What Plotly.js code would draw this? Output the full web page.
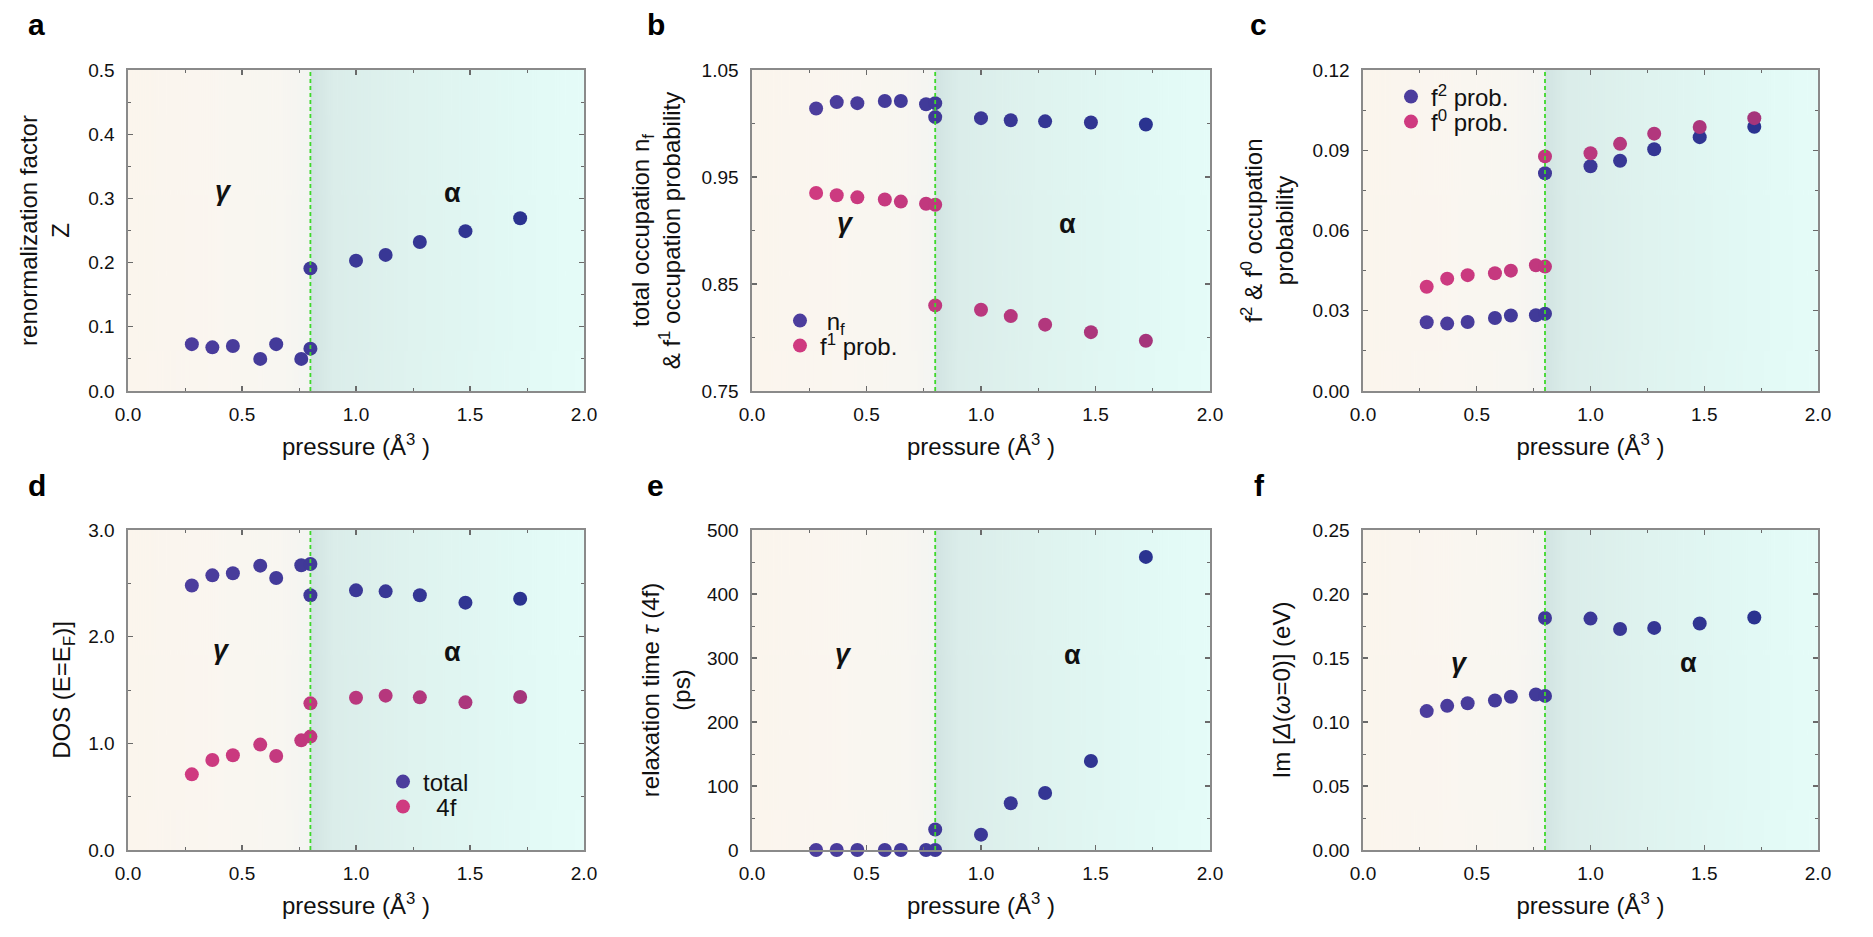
<!DOCTYPE html>
<html>
<head>
<meta charset="utf-8">
<script src="https://cdn.plot.ly/plotly-3.0.1.min.js"></script>
<style>
  html, body { margin: 0; padding: 0; background: #ffffff; }
  #chart { width: 1873px; height: 937px; }
</style>
</head>
<body>
<div id="chart"></div>
<script>
// Pressure grid: the gamma branch ends at the transition, the alpha branch starts there
const pressureGamma = [0.28, 0.37, 0.46, 0.58, 0.65, 0.76, 0.80];
const pressureAlpha = [0.80, 1.00, 1.13, 1.28, 1.48, 1.72];
const transitionPressure = 0.80;

// (a) renormalization factor Z
const zGamma = [0.073, 0.068, 0.070, 0.050, 0.073, 0.050, 0.066];
const zAlpha = [0.191, 0.203, 0.212, 0.232, 0.249, 0.269];

// (b) total 4f occupation n_f and f1 occupation probability
const nfGamma = [1.014, 1.020, 1.019, 1.021, 1.021, 1.018, 1.019];
const nfAlpha = [1.006, 1.005, 1.003, 1.002, 1.001, 0.999];
const f1Gamma = [0.935, 0.933, 0.931, 0.929, 0.927, 0.925, 0.924];
const f1Alpha = [0.830, 0.826, 0.820, 0.812, 0.805, 0.797];

// (c) f2 and f0 occupation probabilities
const f2Gamma = [0.0257, 0.0252, 0.0258, 0.0273, 0.0282, 0.0283, 0.0289];
const f2Alpha = [0.0814, 0.0840, 0.0861, 0.0904, 0.0949, 0.0988];
const f0Gamma = [0.0390, 0.0420, 0.0433, 0.0440, 0.0450, 0.0470, 0.0465];
const f0Alpha = [0.0877, 0.0889, 0.0924, 0.0962, 0.0987, 0.1020];

// (d) density of states at the Fermi level
const dosTotalGamma = [2.480, 2.575, 2.594, 2.666, 2.550, 2.669, 2.681];
const dosTotalAlpha = [2.388, 2.434, 2.425, 2.388, 2.319, 2.356];
const dos4fGamma = [0.709, 0.844, 0.888, 0.988, 0.881, 1.028, 1.063];
const dos4fAlpha = [1.375, 1.428, 1.447, 1.431, 1.384, 1.434];

// (e) 4f relaxation time (ps)
const tauGamma = [0, 0, 0, 0, 0, 0, 0];
const tauAlpha = [32, 24, 73, 89, 139, 458];

// (f) Im Delta(omega = 0) (eV)
const hybGamma = [0.1085, 0.1126, 0.1147, 0.1168, 0.1197, 0.1215, 0.1204];
const hybAlpha = [0.1813, 0.1808, 0.1727, 0.1735, 0.1769, 0.1816];

// Tick values
const pressureTicks = [0, 0.5, 1.0, 1.5, 2.0];
const zTicks = [0, 0.1, 0.2, 0.3, 0.4, 0.5];
const occTicks = [0.75, 0.85, 0.95, 1.05];
const probTicks = [0, 0.03, 0.06, 0.09, 0.12];
const dosTicks = [0, 1, 2, 3];
const tauTicks = [0, 100, 200, 300, 400, 500];
const hybTicks = [0, 0.05, 0.10, 0.15, 0.20, 0.25];

// ---------------------------------------------------------------------------
const W = 1873, H = 937;
const FONT = '"Liberation Sans", Arial, Helvetica, sans-serif';
const cols = [[128, 584], [752, 1210], [1363, 1818]];
const rows = [[70, 391], [530, 850]];
const px2x = p => p / W;
const px2y = p => 1 - p / H;

// phase-dependent background: warm gamma side, teal alpha side
function gradientImage() {
  const c = document.createElement('canvas');
  c.width = 800; c.height = 4;
  const g = c.getContext('2d');
  const lg = g.createLinearGradient(0, 0, c.width, 0);
  const split = transitionPressure / 2;
  lg.addColorStop(0.00, 'rgb(251,245,237)');
  lg.addColorStop(0.20, 'rgb(250,246,240)');
  lg.addColorStop(split - 0.06, 'rgb(248,246,241)');
  lg.addColorStop(split - 0.001, 'rgb(244,245,242)');
  lg.addColorStop(split + 0.001, 'rgb(210,228,226)');
  lg.addColorStop(split + 0.05, 'rgb(219,237,234)');
  lg.addColorStop(0.62, 'rgb(223,243,239)');
  lg.addColorStop(0.85, 'rgb(226,249,245)');
  lg.addColorStop(1.00, 'rgb(229,252,248)');
  g.fillStyle = lg;
  g.fillRect(0, 0, c.width, c.height);
  return c.toDataURL('image/png');
}
const bgSrc = gradientImage();

function hexToRgb(h) { return [1, 3, 5].map(i => parseInt(h.slice(i, i + 2), 16)); }
function mix(c0, c1, t) {
  const a = hexToRgb(c0), b = hexToRgb(c1);
  return 'rgb(' + a.map((v, i) => Math.round(v + (b[i] - v) * t)).join(',') + ')';
}
const allP = pressureGamma.concat(pressureAlpha);
const pMin = Math.min(...allP), pMax = Math.max(...allP);
const BLUE = ['#4c3d9d', '#2a3390'];
const PINK = ['#cf3a80', '#a5357b'];

function series(yGamma, yAlpha, name, palette, axIdx, legendId) {
  const x = pressureGamma.concat(pressureAlpha);
  const y = yGamma.concat(yAlpha);
  const suffix = axIdx === 1 ? '' : String(axIdx);
  return {
    type: 'scatter', mode: 'markers', x: x, y: y, name: name,
    xaxis: 'x' + suffix, yaxis: 'y' + suffix,
    showlegend: !!legendId, legend: legendId || 'legend',
    cliponaxis: false,
    marker: {
      size: 14,
      color: x.map(v => mix(palette[0], palette[1], (v - pMin) / (pMax - pMin))),
      line: { width: 0 }
    },
    hoverinfo: 'x+y'
  };
}

const traces = [
  series(zGamma, zAlpha, 'Z', BLUE, 1),
  series(nfGamma, nfAlpha, '\u00a0n<sub>f</sub>', BLUE, 2, 'legend'),
  series(f1Gamma, f1Alpha, 'f<sup>1</sup> prob.', PINK, 2, 'legend2'),
  series(f2Gamma, f2Alpha, 'f<sup>2</sup> prob.', BLUE, 3, 'legend3'),
  series(f0Gamma, f0Alpha, 'f<sup>0</sup> prob.', PINK, 3, 'legend4'),
  series(dosTotalGamma, dosTotalAlpha, 'total', BLUE, 4, 'legend5'),
  series(dos4fGamma, dos4fAlpha, '\u00a0\u00a04f', PINK, 4, 'legend6'),
  series(tauGamma, tauAlpha, 'tau', BLUE, 5),
  series(hybGamma, hybAlpha, 'Im Delta', BLUE, 6)
];

const tickStyle = {
  showline: true, linecolor: '#8a8a8a', linewidth: 1.6, mirror: 'ticks',
  ticks: 'inside', ticklen: 5, tickwidth: 1.2, tickcolor: '#6a6a6a',
  showgrid: false, zeroline: false, fixedrange: true,
  tickfont: { family: FONT, size: 19, color: '#111' }
};

function xAxis(col, row, anchor) {
  return Object.assign({}, tickStyle, {
    domain: [px2x(cols[col][0]), px2x(cols[col][1])],
    anchor: anchor, range: [0, 2],
    tickmode: 'array', tickvals: pressureTicks, tickformat: '.1f',
    ticklabelstandoff: 6,
    minor: { tickmode: 'linear', tick0: 0, dtick: 0.25, ticks: 'inside', ticklen: 3, tickwidth: 1, tickcolor: '#6a6a6a', showgrid: false },
    title: { text: 'pressure (Å<sup>3</sup> )', font: { family: FONT, size: 24, color: '#111' }, standoff: 14 }
  });
}
function yAxis(col, row, anchor, range, ticks, fmt, minorStep, title, standoff) {
  return Object.assign({}, tickStyle, {
    domain: [px2y(rows[row][1]), px2y(rows[row][0])],
    anchor: anchor, range: range,
    tickmode: 'array', tickvals: ticks, tickformat: fmt,
    ticklabelstandoff: 8,
    minor: { tickmode: 'linear', tick0: range[0], dtick: minorStep, ticks: 'inside', ticklen: 3, tickwidth: 1, tickcolor: '#6a6a6a', showgrid: false },
    title: { text: title, font: { family: FONT, size: 24, color: '#111' }, standoff: standoff }
  });
}

const layout = {
  width: W, height: H,
  margin: { l: 0, r: 0, t: 0, b: 0 },
  paper_bgcolor: '#ffffff', plot_bgcolor: '#ffffff',
  font: { family: FONT, color: '#111' },
  xaxis: xAxis(0, 0, 'y'),
  xaxis2: xAxis(1, 0, 'y2'),
  xaxis3: xAxis(2, 0, 'y3'),
  xaxis4: xAxis(0, 1, 'y4'),
  xaxis5: xAxis(1, 1, 'y5'),
  xaxis6: xAxis(2, 1, 'y6'),
  yaxis: yAxis(0, 0, 'x', [0, 0.5], zTicks, '.1f', 0.05, 'renormalization factor<br>Z', 12),
  yaxis2: yAxis(1, 0, 'x2', [0.75, 1.05], occTicks, '.2f', 0.05, 'total occupation n<sub>f</sub><br>&amp; f<sup>1</sup> occupation probability', 14),
  yaxis3: yAxis(2, 0, 'x3', [0, 0.12], probTicks, '.2f', 0.015, 'f<sup>2</sup> &amp; f<sup>0</sup> occupation<br>probability', 12),
  yaxis4: yAxis(0, 1, 'x4', [0, 3], dosTicks, '.1f', 0.5, 'DOS (E=E<sub>F</sub>)]', 11),
  yaxis5: yAxis(1, 1, 'x5', [0, 500], tauTicks, 'd', 50, 'relaxation time <i>τ</i> (4f)<br>(ps)', 9),
  yaxis6: yAxis(2, 1, 'x6', [0, 0.25], hybTicks, '.2f', 0.025, 'Im [<i>Δ</i>(<i>ω</i>=0)] (eV)', 15),
  images: [],
  shapes: [],
  annotations: []
};

// one-item legends placed inside panels b, c and d
function legendBox(cx, cy) {
  return {
    x: px2x(cx - 20), y: px2y(cy), xanchor: 'left', yanchor: 'middle',
    xref: 'paper', yref: 'paper',
    bgcolor: 'rgba(0,0,0,0)', borderwidth: 0,
    font: { family: FONT, size: 24, color: '#111' },
    itemclick: false, itemdoubleclick: false
  };
}
layout.legend = legendBox(800, 321);
layout.legend2 = legendBox(800, 346);
layout.legend3 = legendBox(1411, 97);
layout.legend4 = legendBox(1411, 122);
layout.legend5 = legendBox(403, 782);
layout.legend6 = legendBox(403, 807);

const axisIds = ['', '2', '3', '4', '5', '6'];
axisIds.forEach(s => {
  layout.images.push({
    source: bgSrc, xref: 'x' + s + ' domain', yref: 'y' + s + ' domain',
    x: 0, y: 1, sizex: 1, sizey: 1, xanchor: 'left', yanchor: 'top',
    sizing: 'stretch', layer: 'below'
  });
  layout.shapes.push({
    type: 'line', xref: 'x' + s, yref: 'y' + s + ' domain',
    x0: transitionPressure, x1: transitionPressure, y0: 0, y1: 1,
    line: { color: '#3ed82a', width: 1.8, dash: '4px,3px' }, layer: 'above'
  });
});

// phase labels
const phaseLabels = [
  ['', 0.42, 0.311, 1.425, 0.309],
  ['2', 0.41, 0.907, 1.376, 0.906],
  ['4', 0.408, 1.875, 1.422, 1.86],
  ['5', 0.40, 306, 1.40, 304],
  ['6', 0.426, 0.146, 1.43, 0.146]
];
phaseLabels.forEach(([s, gx, gy, ax, ay]) => {
  layout.annotations.push({
    xref: 'x' + s, yref: 'y' + s, x: gx, y: gy, showarrow: false,
    text: '<b><i>γ</i></b>', font: { family: FONT, size: 27, color: '#111' }
  });
  layout.annotations.push({
    xref: 'x' + s, yref: 'y' + s, x: ax, y: ay, showarrow: false,
    text: '<b>α</b>', font: { family: FONT, size: 27, color: '#111' }
  });
});

// panel letters
[['a', 26, 25], ['b', 645, 25], ['c', 1248, 25], ['d', 26, 485], ['e', 645, 485], ['f', 1252, 485]]
  .forEach(([t, x, y]) => {
    layout.annotations.push({
      xref: 'paper', yref: 'paper', x: px2x(x), y: px2y(y),
      xanchor: 'left', yanchor: 'middle', showarrow: false,
      text: '<b>' + t + '</b>', font: { family: FONT, size: 30, color: '#000' }
    });
  });

Plotly.newPlot('chart', traces, layout, { displayModeBar: false, staticPlot: true });
</script>
</body>
</html>
